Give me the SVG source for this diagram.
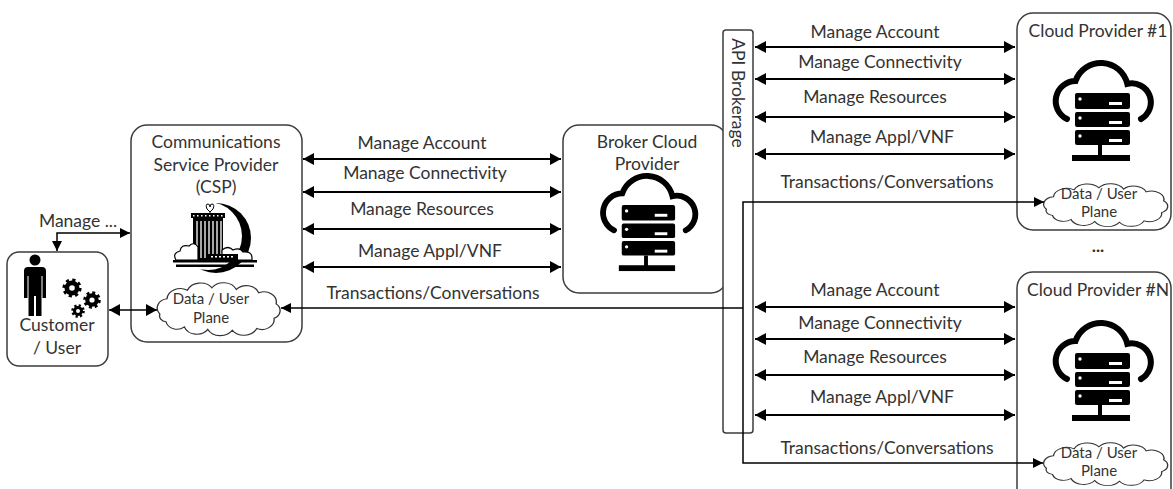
<svg xmlns="http://www.w3.org/2000/svg" xmlns:xlink="http://www.w3.org/1999/xlink" width="1173" height="489" viewBox="0 0 1173 489">
  <style>
    .box { fill: #fff; stroke: #3c3c3c; stroke-width: 1.5; }
    .lbl { font-family: Lato, "Liberation Sans", sans-serif; font-size: 17.5px; fill: #333; text-anchor: middle; }
    .ttl { font-family: Lato, "Liberation Sans", sans-serif; font-size: 17.5px; fill: #333; text-anchor: middle; }
    .cl { font-family: Lato, "Liberation Sans", sans-serif; font-size: 15px; fill: #333; text-anchor: middle; }
    .arr { stroke: #000; stroke-width: 2; fill: none; marker-start: url(#ah); marker-end: url(#ah); }
    .tx { stroke: #000; stroke-width: 1.5; fill: none; }
    .cloud { fill: #fff; stroke: #333; stroke-width: 1.3; }
  </style>
  <defs>
    <marker id="ah" viewBox="0 0 11 12" refX="11" refY="6" markerWidth="11" markerHeight="12" markerUnits="userSpaceOnUse" orient="auto-start-reverse">
      <path d="M0,0 L11,6 L0,12 z" fill="#000"/>
    </marker>
    <marker id="ahs" viewBox="0 0 10 10" refX="10" refY="5" markerWidth="10" markerHeight="10" markerUnits="userSpaceOnUse" orient="auto-start-reverse">
      <path d="M0,0 L10,5 L0,10 z" fill="#000"/>
    </marker>
    <!-- bumpy cloud outline, about 120 x 61, centred on 0,0 -->
    <path id="cloudShape" d="M -57 6 A 11 11 0 0 1 -50 -12 A 13 13 0 0 1 -30 -22 A 14 14 0 0 1 -6 -25 A 14 14 0 0 1 18 -23 A 13 13 0 0 1 40 -19 A 12 12 0 0 1 57 -6 A 10 10 0 0 1 55 11 A 12 12 0 0 1 38 23 A 14 14 0 0 1 14 25 A 14 14 0 0 1 -10 24 A 13 13 0 0 1 -33 21 A 11 11 0 0 1 -51 15 A 7 7 0 0 1 -57 6 Z"/>
    <!-- cloud with server rack icon; origin at top of cloud, stem axis -->
    <g id="cloudServer">
      <path d="M -33 56 A 20 20 0 0 1 -24.5 18 A 27 27 0 0 1 27.3 20.9 A 19 19 0 0 1 41 56" fill="none" stroke="#000" stroke-width="6" stroke-linecap="round"/>
      <g fill="#000">
        <rect x="-25" y="30" width="55" height="16" rx="2"/>
        <rect x="-25" y="49" width="55" height="15" rx="2"/>
        <rect x="-25" y="67" width="55" height="15" rx="2"/>
        <rect x="-2" y="82" width="4" height="12"/>
        <rect x="-28" y="92" width="58" height="6"/>
      </g>
      <g fill="#fff">
        <circle cx="-20" cy="36" r="1.7"/>
        <circle cx="-20" cy="55" r="1.7"/>
        <circle cx="-20" cy="73" r="1.7"/>
        <rect x="9" y="39" width="13" height="3"/>
        <rect x="9" y="58" width="13" height="3"/>
        <rect x="9" y="76" width="13" height="3"/>
      </g>
    </g>
  </defs>

  <rect width="1173" height="489" fill="#fff"/>

  <!-- Customer / User -->
  <g id="customer">
    <rect class="box" x="7" y="252" width="101" height="114" rx="12"/>
    <g fill="#000">
      <circle cx="35" cy="260" r="5.5"/>
      <path d="M 28 267 H 42 Q 46 267 46 271 V 298 H 42.5 V 276 H 41.5 V 316 H 36 V 296 H 34 V 316 H 28.5 V 276 H 27.5 V 298 H 24 V 271 Q 24 267 28 267 Z"/>
    </g>
    <g>
      <circle cx="72" cy="288" r="7.5" fill="#000"/>
      <circle cx="72" cy="288" r="8" fill="none" stroke="#000" stroke-width="3.2" stroke-dasharray="3.14 3.14"/>
      <circle cx="72" cy="288" r="2.8" fill="#fff"/>
      <circle cx="92" cy="300" r="6.8" fill="#000"/>
      <circle cx="92" cy="300" r="7.3" fill="none" stroke="#000" stroke-width="3" stroke-dasharray="2.87 2.87"/>
      <circle cx="92" cy="300" r="2.6" fill="#fff"/>
      <circle cx="78" cy="311" r="5" fill="#000"/>
      <circle cx="78" cy="311" r="5.5" fill="none" stroke="#000" stroke-width="2.6" stroke-dasharray="2.16 2.16"/>
      <circle cx="78" cy="311" r="2" fill="#fff"/>
    </g>
    <text class="ttl" x="57" y="331">Customer</text>
    <text class="ttl" x="57" y="354">/ User</text>
  </g>

  <!-- Communications Service Provider -->
  <g id="csp">
    <rect class="box" x="131" y="125" width="171" height="217" rx="16"/>
    <text class="ttl" x="216" y="148">Communications</text>
    <text class="ttl" x="216" y="171">Service Provider</text>
    <text class="ttl" x="216" y="193">(CSP)</text>
    <!-- building under a crescent moon -->
    <g>
      <circle cx="216" cy="238" r="35" fill="#000"/>
      <circle cx="208" cy="236" r="34" fill="#fff"/>
      <rect x="191" y="213" width="34" height="5" fill="#000"/>
      <g fill="#fff">
        <rect x="193" y="215" width="1.5" height="1.5"/><rect x="197" y="215" width="1.5" height="1.5"/>
        <rect x="201" y="215" width="1.5" height="1.5"/><rect x="205" y="215" width="1.5" height="1.5"/>
        <rect x="209" y="215" width="1.5" height="1.5"/><rect x="213" y="215" width="1.5" height="1.5"/>
        <rect x="217" y="215" width="1.5" height="1.5"/><rect x="221" y="215" width="1.5" height="1.5"/>
      </g>
      <path d="M 207 209 Q 205 204 208 204 Q 210 204 210 207 Q 210 204 212 204 Q 215 204 213 209 L 210 212 Z" fill="none" stroke="#000" stroke-width="1"/>
      <line x1="210" y1="211" x2="210" y2="213" stroke="#000" stroke-width="1"/>
      <rect x="193" y="218" width="30" height="42" fill="#000"/>
      <g stroke="#fff" stroke-width="1.3">
        <line x1="197" y1="221" x2="197" y2="258"/><line x1="201" y1="221" x2="201" y2="258"/>
        <line x1="205" y1="221" x2="205" y2="258"/><line x1="209" y1="221" x2="209" y2="258"/>
        <line x1="213" y1="221" x2="213" y2="258"/><line x1="217" y1="221" x2="217" y2="258"/>
        <line x1="221" y1="221" x2="221" y2="258"/>
      </g>
      <path d="M 176 260 Q 172 253 180 251 Q 181 244 189 246 Q 194 241 198 247 L 198 260 Z" fill="#fff" stroke="#000" stroke-width="1.2"/>
      <path d="M 222 260 L 222 250 Q 228 245 233 250 Q 240 247 243 252 Q 252 251 252 258 L 252 260 Z" fill="#fff" stroke="#000" stroke-width="1.2"/>
      <rect x="208" y="254" width="30" height="6" fill="#000"/>
      <g fill="#fff">
        <rect x="211" y="256" width="2" height="1.5"/><rect x="215" y="256" width="2" height="1.5"/>
        <rect x="219" y="256" width="2" height="1.5"/><rect x="223" y="256" width="2" height="1.5"/>
        <rect x="227" y="256" width="2" height="1.5"/><rect x="231" y="256" width="2" height="1.5"/>
      </g>
      <rect x="173" y="260" width="84" height="2.5" fill="#000"/>
      <rect x="176" y="264.5" width="78" height="2.5" fill="#000"/>
    </g>
    <use href="#cloudShape" class="cloud" transform="translate(218 309) scale(1.02 0.85)" vector-effect="non-scaling-stroke"/>
    <text class="cl" x="211" y="304">Data / User</text>
    <text class="cl" x="211" y="323">Plane</text>
  </g>

  <!-- Broker Cloud Provider -->
  <g id="broker">
    <rect class="box" x="563" y="125" width="164" height="168" rx="16"/>
    <text class="ttl" x="647" y="148">Broker Cloud</text>
    <text class="ttl" x="647" y="170">Provider</text>
    <use href="#cloudServer" transform="translate(646 176) scale(0.97)"/>
  </g>

  <!-- API Brokerage -->
  <g id="api-brokerage">
    <rect class="box" x="723" y="30" width="30" height="403" rx="3"/>
    <text class="ttl" transform="translate(732 93) rotate(90)">API Brokerage</text>
  </g>

  <!-- Cloud Provider #1 -->
  <g id="cloud-provider-1">
    <rect class="box" x="1017" y="13" width="154" height="217" rx="16"/>
    <text class="ttl" x="1098" y="37">Cloud Provider #1</text>
    <use href="#cloudServer" transform="translate(1100 63)"/>
    <use href="#cloudShape" class="cloud" transform="translate(1105 205) scale(1.03 0.69)" vector-effect="non-scaling-stroke"/>
    <text class="cl" x="1099" y="199">Data / User</text>
    <text class="cl" x="1099" y="217">Plane</text>
  </g>

  <text id="ellipsis" class="ttl" x="1098" y="252" font-weight="bold">...</text>

  <!-- Cloud Provider #N -->
  <g id="cloud-provider-n">
    <rect class="box" x="1017" y="272" width="154" height="240" rx="16"/>
    <text class="ttl" x="1098" y="296">Cloud Provider #N</text>
    <use href="#cloudServer" transform="translate(1100 323)"/>
    <use href="#cloudShape" class="cloud" transform="translate(1105 464) scale(1.03 0.69)" vector-effect="non-scaling-stroke"/>
    <text class="cl" x="1099" y="458">Data / User</text>
    <text class="cl" x="1099" y="476">Plane</text>
  </g>

  <!-- connectors -->
  <g id="connectors">
    <!-- customer side -->
    <path class="tx" d="M 57 251 V 233 H 130" marker-start="url(#ahs)" marker-end="url(#ahs)"/>
    <path class="tx" d="M 109 310 H 157" marker-start="url(#ah)" marker-end="url(#ah)"/>

    <!-- CSP to broker -->
    <line class="arr" x1="303" y1="159" x2="561" y2="159"/>
    <line class="arr" x1="303" y1="192" x2="561" y2="192"/>
    <line class="arr" x1="303" y1="229" x2="561" y2="229"/>
    <line class="arr" x1="303" y1="267" x2="561" y2="267"/>

    <!-- API brokerage to provider #1 -->
    <line class="arr" x1="755" y1="47" x2="1015" y2="47"/>
    <line class="arr" x1="755" y1="79" x2="1015" y2="79"/>
    <line class="arr" x1="755" y1="117" x2="1015" y2="117"/>
    <line class="arr" x1="755" y1="154" x2="1015" y2="154"/>

    <!-- API brokerage to provider #N -->
    <line class="arr" x1="755" y1="307" x2="1015" y2="307"/>
    <line class="arr" x1="755" y1="339" x2="1015" y2="339"/>
    <line class="arr" x1="755" y1="375" x2="1015" y2="375"/>
    <line class="arr" x1="755" y1="415" x2="1015" y2="415"/>

    <!-- data / user plane transactions -->
    <path class="tx" d="M 743 308 H 281" marker-end="url(#ahs)"/>
    <path class="tx" d="M 1044 202 H 743 V 463 H 1043" marker-start="url(#ahs)" marker-end="url(#ahs)"/>
  </g>

  <!-- connector labels -->
  <g id="labels">
    <text class="lbl" x="422" y="149">Manage Account</text>
    <text class="lbl" x="425" y="179">Manage Connectivity</text>
    <text class="lbl" x="422" y="215">Manage Resources</text>
    <text class="lbl" x="430" y="257">Manage Appl/VNF</text>
    <text class="lbl" x="433" y="299">Transactions/Conversations</text>

    <text class="lbl" x="875" y="38">Manage Account</text>
    <text class="lbl" x="880" y="68">Manage Connectivity</text>
    <text class="lbl" x="875" y="103">Manage Resources</text>
    <text class="lbl" x="882" y="143">Manage Appl/VNF</text>
    <text class="lbl" x="887" y="188">Transactions/Conversations</text>

    <text class="lbl" x="875" y="296">Manage Account</text>
    <text class="lbl" x="880" y="329">Manage Connectivity</text>
    <text class="lbl" x="875" y="363">Manage Resources</text>
    <text class="lbl" x="882" y="403">Manage Appl/VNF</text>
    <text class="lbl" x="887" y="454">Transactions/Conversations</text>

    <text class="lbl" x="78" y="227">Manage ...</text>
  </g>
</svg>
